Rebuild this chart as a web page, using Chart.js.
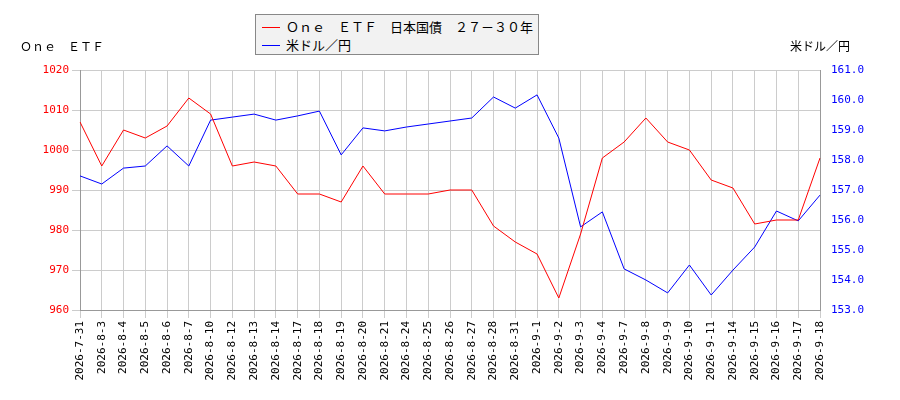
<!DOCTYPE html>
<html><head><meta charset="utf-8">
<script src="https://cdn.jsdelivr.net/npm/chart.js@4/dist/chart.umd.min.js"></script>
<style>
body{margin:0;background:#fff;font-family:"Noto Sans CJK JP",sans-serif;}
#wrap{position:relative;width:900px;height:400px;}
#legend{position:absolute;left:255px;top:14px;width:284px;height:41px;background:#f2f2f2;border:1px solid #888;font-size:13px;box-sizing:border-box;padding:3px 0 0 6px;line-height:18px;}
.l{display:flex;align-items:center}
.l span{display:inline-block;width:18px;height:1px;margin-right:6px}
.t{position:absolute;top:37px;font-size:12px}
</style></head><body>
<div id="wrap">
<canvas id="c" width="900" height="400"></canvas>
<div id="legend"><div class="l"><span style="background:red"></span>Ｏｎｅ　ＥＴＦ　日本国債　２７－３０年</div><div class="l"><span style="background:blue"></span>米ドル／円</div></div>
<div class="t" style="left:20px">Ｏｎｅ　ＥＴＦ</div>
<div class="t" style="left:790px">米ドル／円</div>
</div>
<script>
const labels=["2026-7-31","2026-8-3","2026-8-4","2026-8-5","2026-8-6","2026-8-7","2026-8-10","2026-8-12","2026-8-13","2026-8-14","2026-8-17","2026-8-18","2026-8-19","2026-8-20","2026-8-21","2026-8-24","2026-8-25","2026-8-26","2026-8-27","2026-8-28","2026-8-31","2026-9-1","2026-9-2","2026-9-3","2026-9-4","2026-9-7","2026-9-8","2026-9-9","2026-9-10","2026-9-11","2026-9-14","2026-9-15","2026-9-16","2026-9-17","2026-9-18"];
const etf=[1007,996,1005,1003,1006,1013,1009,996,997,996,989,989,987,996,989,989,989,990,990,981,977,974,963,979,998,1002,1008,1002,1000,992.5,990.5,981.5,982.5,982.5,998];
const usdjpy=[157.47,157.2,157.73,157.8,158.47,157.8,159.33,159.43,159.53,159.33,159.47,159.63,158.17,159.07,158.97,159.1,159.2,159.3,159.4,160.1,159.73,160.17,158.73,155.77,156.27,154.37,154.0,153.57,154.5,153.5,154.33,155.1,156.3,155.97,156.83];
const f={family:"DejaVu Sans Mono",size:11};
new Chart(document.getElementById('c'),{type:'line',
data:{labels,datasets:[
{data:etf,borderColor:'red',borderWidth:1,pointRadius:0,yAxisID:'y',tension:0},
{data:usdjpy,borderColor:'blue',borderWidth:1,pointRadius:0,yAxisID:'y1',tension:0}]},
options:{responsive:false,animation:false,layout:{padding:{top:70}},
plugins:{legend:{display:false},tooltip:{enabled:false}},
scales:{
x:{offset:false,ticks:{color:'#000',font:f,maxRotation:90,minRotation:90,autoSkip:false},grid:{color:'#ccc'},border:{color:'#999'},afterFit:s=>{s.height=90}},
y:{position:'left',min:960,max:1020,ticks:{stepSize:10,color:'red',font:f,callback:v=>String(v)},grid:{color:'#ccc'},border:{color:'#999'},afterFit:s=>{s.width=80}},
y1:{position:'right',min:153,max:161,ticks:{stepSize:1,color:'blue',font:f,callback:v=>v.toFixed(1)},grid:{display:false},border:{color:'#999'},afterFit:s=>{s.width=80}}
}}});
</script></body></html>
